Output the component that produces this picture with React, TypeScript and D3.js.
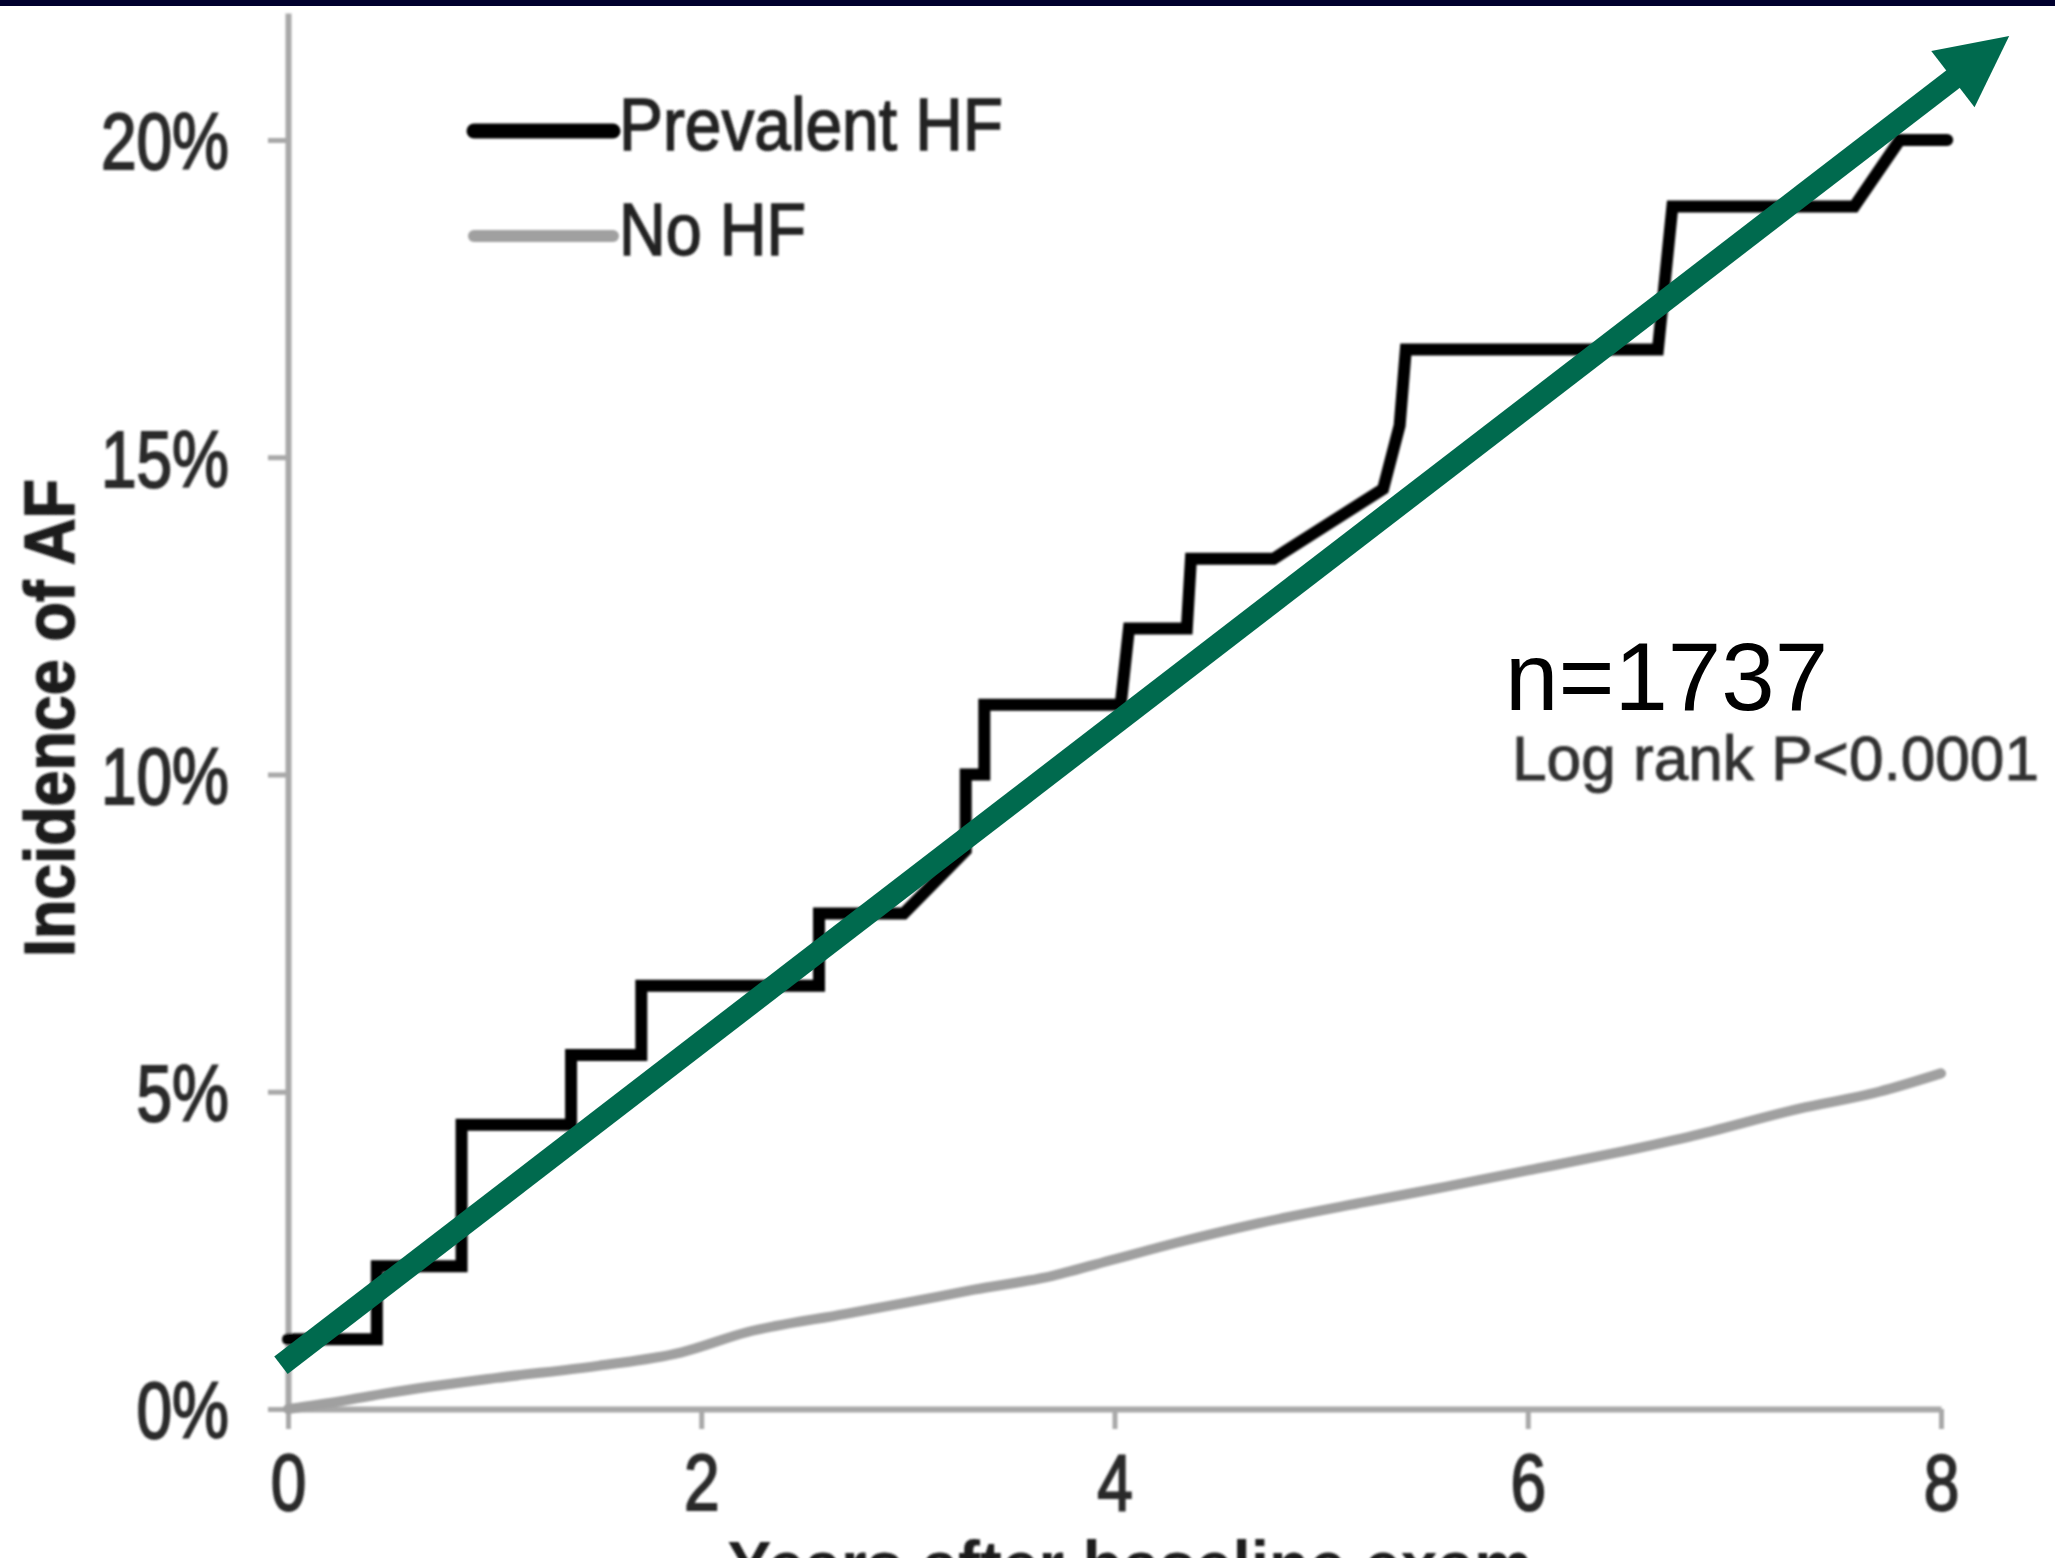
import React, { useRef, useEffect } from "react";
import * as d3 from "d3";

// Prevalent HF (step curve vertices, years / %)
const hfYears = [0, 0.43, 0.43, 0.84, 0.84, 1.37, 1.37, 1.71, 1.71, 2.57, 2.57, 2.98, 3.28, 3.28, 3.37, 3.37, 4.03, 4.07, 4.35, 4.37, 4.77, 5.3, 5.38, 5.41, 6.63, 6.7, 7.58, 7.8, 8.03];
const hfPct = [1.1, 1.1, 2.25, 2.25, 4.48, 4.48, 5.58, 5.58, 6.67, 6.67, 7.81, 7.81, 8.8, 10.0, 10.0, 11.1, 11.1, 12.3, 12.3, 13.4, 13.4, 14.5, 15.5, 16.7, 16.7, 18.95, 18.95, 20.0, 20.0];

// No HF
const noHfYears = [0, 0.25, 0.48, 1.01, 1.5, 1.9, 2.22, 2.7, 3.0, 3.32, 3.7, 4.0, 4.3, 4.7, 5.21, 5.6, 6.0, 6.4, 6.78, 7.31, 7.7, 8.0];
const noHfPct = [0, 0.12, 0.25, 0.49, 0.68, 0.89, 1.21, 1.5, 1.68, 1.88, 2.1, 2.36, 2.62, 2.93, 3.26, 3.5, 3.76, 4.02, 4.29, 4.73, 5.0, 5.29];

const xTicks = [0, 2, 4, 6, 8];
const yTicks = [0, 5, 10, 15, 20];
const legendLabels = ["Prevalent HF", "No HF"];

// trend arrow, in data units (years, %)
const arrowFrom = [-0.034, 0.69];
const arrowTo = [8.33, 21.64];

const FONT = "'Liberation Sans', Arial, Helvetica, sans-serif";

function App() {
  const ref = useRef<SVGSVGElement>(null);

  useEffect(() => {
    const svg = d3.select(ref.current);
    svg.selectAll("*").remove();

    const x = d3.scaleLinear().domain([0, 8]).range([288, 1941]);
    const y = d3.scaleLinear().domain([0, 22]).range([1409, 13.1]);

    svg.append("defs")
      .append("filter")
      .attr("id", "soft")
      .append("feGaussianBlur")
      .attr("stdDeviation", 1);

    svg.append("rect").attr("width", 2055).attr("height", 1558).attr("fill", "#fff");
    // dark band at the top
    svg.append("rect").attr("width", 2055).attr("height", 6).attr("fill", "#00002e");

    const chart = svg.append("g").attr("filter", "url(#soft)");

    // Y axis
    const yAxis = chart.append("g")
      .attr("transform", `translate(${x(0)},0)`)
      .call(d3.axisLeft(y).tickValues(yTicks).tickSize(20).tickSizeOuter(0).tickFormat((d) => d + "%"));
    yAxis.attr("font-size", null).attr("font-family", null);
    yAxis.select(".domain").attr("stroke", "#a8a8a8").attr("stroke-width", 6);
    yAxis.selectAll(".tick line").attr("stroke", "#a8a8a8").attr("stroke-width", 5);
    yAxis.selectAll(".tick text")
      .attr("font-family", FONT)
      .attr("font-size", 80)
      .attr("fill", "#2b2b2b")
      .attr("stroke", "#2b2b2b")
      .attr("stroke-width", 2)
      .attr("transform", "scale(0.8,1)")
      .attr("x", -59 / 0.8)
      .attr("dy", "0.36em");

    // X axis
    const xAxis = chart.append("g")
      .attr("transform", `translate(0,${y(0)})`)
      .call(d3.axisBottom(x).tickValues(xTicks).tickSize(20).tickSizeOuter(0));
    xAxis.attr("font-size", null).attr("font-family", null);
    xAxis.select(".domain").attr("stroke", "#a8a8a8").attr("stroke-width", 6);
    xAxis.selectAll(".tick line").attr("stroke", "#a8a8a8").attr("stroke-width", 5);
    xAxis.selectAll(".tick text")
      .attr("font-family", FONT)
      .attr("font-size", 80)
      .attr("fill", "#2b2b2b")
      .attr("stroke", "#2b2b2b")
      .attr("stroke-width", 2)
      .attr("transform", "scale(0.8,1)")
      .attr("y", 101)
      .attr("dy", 0);

    // axis titles
    chart.append("text")
      .attr("transform", "translate(74,718) rotate(-90)")
      .attr("text-anchor", "middle")
      .attr("font-family", FONT)
      .attr("font-weight", "bold")
      .attr("font-size", 70)
      .attr("textLength", 478)
      .attr("lengthAdjust", "spacingAndGlyphs")
      .attr("fill", "#1a1a1a")
      .attr("stroke", "#1a1a1a")
      .attr("stroke-width", 1.5)
      .text("Incidence of AF");

    // only the top of this title shows, as in the original figure
    chart.append("text")
      .attr("x", 1130)
      .attr("y", 1589)
      .attr("text-anchor", "middle")
      .attr("font-family", FONT)
      .attr("font-weight", "bold")
      .attr("font-size", 68)
      .attr("textLength", 805)
      .attr("lengthAdjust", "spacingAndGlyphs")
      .attr("fill", "#1a1a1a")
      .text("Years after baseline exam");

    // curves
    const noHfLine = d3.line<number>()
      .x((d, i) => x(noHfYears[i]))
      .y((d) => y(d))
      .curve(d3.curveMonotoneX);
    chart.append("path")
      .datum(noHfPct)
      .attr("fill", "none")
      .attr("stroke", "#a0a0a0")
      .attr("stroke-width", 10)
      .attr("stroke-linecap", "round")
      .attr("d", noHfLine);

    const hfLine = d3.line<number>()
      .x((d, i) => x(hfYears[i]))
      .y((d) => y(d));
    chart.append("path")
      .datum(hfPct)
      .attr("fill", "none")
      .attr("stroke", "#000")
      .attr("stroke-width", 12)
      .attr("stroke-linejoin", "miter")
      .attr("stroke-linecap", "round")
      .attr("d", hfLine);

    // legend
    const legend = chart.append("g");
    const legendStyles = [
      { color: "#000", width: 15, y: 131, base: 150, len: 384 },
      { color: "#a0a0a0", width: 12, y: 236, base: 255, len: 187 },
    ];
    legendLabels.forEach((label, i) => {
      const s = legendStyles[i];
      legend.append("line")
        .attr("x1", 474).attr("x2", 613)
        .attr("y1", s.y).attr("y2", s.y)
        .attr("stroke", s.color)
        .attr("stroke-width", s.width)
        .attr("stroke-linecap", "round");
      legend.append("text")
        .attr("x", 619)
        .attr("y", s.base)
        .attr("font-family", FONT)
        .attr("font-size", 74)
        .attr("textLength", s.len)
        .attr("lengthAdjust", "spacingAndGlyphs")
        .attr("fill", "#222")
        .attr("stroke", "#222")
        .attr("stroke-width", 1.5)
        .text(label);
    });

    chart.append("text")
      .attr("x", 1512)
      .attr("y", 780)
      .attr("font-family", FONT)
      .attr("font-size", 63)
      .attr("textLength", 527)
      .attr("lengthAdjust", "spacingAndGlyphs")
      .attr("fill", "#333")
      .attr("stroke", "#333")
      .attr("stroke-width", 1)
      .text("Log rank P<0.0001");

    // green trend arrow
    const x0 = x(arrowFrom[0]), y0 = y(arrowFrom[1]);
    const x1 = x(arrowTo[0]), y1 = y(arrowTo[1]);
    const len = Math.hypot(x1 - x0, y1 - y0);
    const ux = (x1 - x0) / len, uy = (y1 - y0) / len;
    const headLen = 71, headHalf = 35.5;
    const bx = x1 - ux * headLen, by = y1 - uy * headLen;
    svg.append("line")
      .attr("x1", x0).attr("y1", y0)
      .attr("x2", bx + ux * 2).attr("y2", by + uy * 2)
      .attr("stroke", "#006a4e")
      .attr("stroke-width", 22);
    svg.append("path")
      .attr("d", `M${x1},${y1}L${bx - uy * headHalf},${by + ux * headHalf}L${bx + uy * headHalf},${by - ux * headHalf}Z`)
      .attr("fill", "#006a4e");

    svg.append("text")
      .attr("x", 1505)
      .attr("y", 710)
      .attr("font-family", FONT)
      .attr("font-size", 96)
      .attr("fill", "#000")
      .text("n=1737");
  }, []);

  return (
    <svg
      ref={ref}
      width={2055}
      height={1558}
      style={{ position: "absolute", left: 0, top: 0, display: "block" }}
    />
  );
}

export default App;
